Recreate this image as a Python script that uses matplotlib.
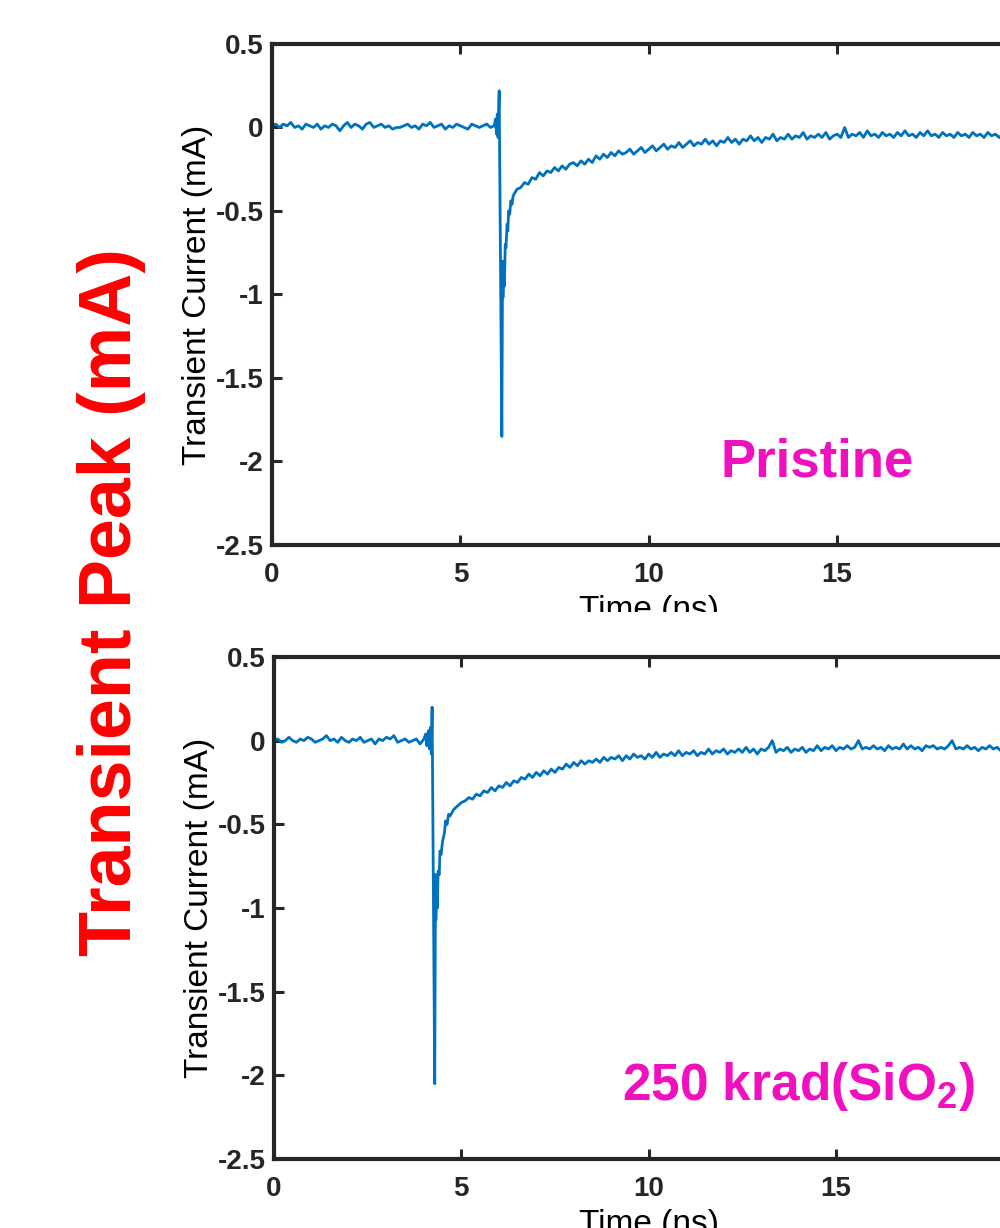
import numpy as np
import matplotlib.pyplot as plt
from matplotlib.patches import Rectangle

plt.rcParams["font.family"] = ["Liberation Sans", "DejaVu Sans"]
plt.rcParams["mathtext.fontset"] = "custom"
plt.rcParams["mathtext.rm"] = "Liberation Sans"
plt.rcParams["mathtext.bf"] = "Liberation Sans:bold"

LINE = "#0072BD"
MAGENTA = "#F010C0"
DT = 0.1  # scope sample step used for the baseline and tail segments (ns)

# ---- pristine device ----
pristine_pre = [0.01, 0.02, 0.00, 0.02, 0.01, 0.03, 0.00, 0.01, -0.01, 0.02,
                0.01, 0.00, 0.02, -0.01, 0.01, 0.00, 0.02, 0.01, -0.02, 0.01,
                0.03, 0.00, 0.02, 0.01, -0.01, 0.02, 0.03, 0.00, 0.01, 0.02,
                0.00, 0.01, -0.01, 0.00, 0.00, 0.01, 0.02, 0.00, 0.01, -0.01,
                0.02, 0.01, 0.03, 0.00, 0.01, 0.02, -0.01, 0.01, 0.00, 0.02,
                0.01, 0.00, -0.01, 0.02, 0.01, 0.00, 0.01, 0.02, 0.00, 0.01]
pristine_spike_t = [5.93, 5.96, 5.98, 6.00, 6.01, 6.03, 6.10, 6.12, 6.13, 6.15,
                    6.17, 6.19, 6.21, 6.24, 6.26, 6.28, 6.31, 6.34, 6.37]
pristine_spike_i = [0.05, -0.04, 0.08, -0.06, 0.06, 0.22, -1.85, -0.80, -1.02, -0.85,
                    -0.95, -0.70, -0.72, -0.58, -0.62, -0.50, -0.52, -0.44, -0.46]
pristine_tail_t0 = 6.4
pristine_tail = [-0.41, -0.37, -0.36, -0.33, -0.34, -0.30, -0.31, -0.27, -0.29, -0.26,
                 -0.27, -0.24, -0.26, -0.23, -0.25, -0.22, -0.21, -0.23, -0.20, -0.22,
                 -0.19, -0.21, -0.17, -0.19, -0.16, -0.18, -0.15, -0.17, -0.14, -0.16,
                 -0.15, -0.13, -0.16, -0.14, -0.12, -0.15, -0.13, -0.11, -0.14, -0.12,
                 -0.10, -0.13, -0.11, -0.12, -0.09, -0.12, -0.10, -0.08, -0.11, -0.09,
                 -0.10, -0.07, -0.10, -0.08, -0.11, -0.08, -0.09, -0.06, -0.09, -0.07,
                 -0.10, -0.07, -0.08, -0.05, -0.08, -0.06, -0.09, -0.06, -0.07, -0.04,
                 -0.08, -0.06, -0.07, -0.04, -0.07, -0.05, -0.06, -0.03, -0.07, -0.05,
                 -0.06, -0.04, -0.06, -0.03, -0.07, -0.05, -0.04, -0.06, 0.00, -0.06,
                 -0.04, -0.05, -0.03, -0.06, -0.02, -0.05, -0.04, -0.06, -0.03, -0.05,
                 -0.04, -0.06, -0.03, -0.05, -0.02, -0.05, -0.04, -0.06, -0.03, -0.05,
                 -0.02, -0.05, -0.04, -0.06, -0.03, -0.05, -0.04, -0.06, -0.03, -0.05,
                 -0.04, -0.06, -0.03, -0.05, -0.04, -0.06, -0.03, -0.05, -0.04, -0.06,
                 -0.04, -0.05, -0.03, -0.05, -0.04, -0.06, -0.04]

# ---- after 250 krad(SiO2) ----
irr_pre = [0.00, 0.01, -0.01, 0.00, 0.02, 0.00, -0.01, 0.01, 0.00, 0.02,
           0.01, -0.01, 0.00, 0.01, 0.03, 0.00, 0.01, -0.01, 0.02, 0.00,
           -0.01, 0.01, 0.00, 0.02, -0.01, 0.00, 0.01, -0.02, 0.01, 0.00,
           0.02, 0.01, 0.03, -0.01, 0.00, 0.01, -0.01, 0.00, 0.01, -0.02,
           0.01]
irr_spike_t = [4.05, 4.08, 4.12, 4.15, 4.18, 4.20, 4.22, 4.29, 4.31, 4.32,
               4.34, 4.36, 4.38, 4.41, 4.43, 4.46, 4.50, 4.55, 4.58, 4.62,
               4.66, 4.70]
irr_spike_i = [0.04, -0.03, 0.06, -0.05, 0.08, -0.08, 0.20, -2.05, -0.80, -1.07,
               -0.85, -1.00, -0.78, -0.80, -0.66, -0.68, -0.60, -0.55, -0.48, -0.50,
               -0.44, -0.45]
irr_tail_t0 = 4.8
irr_tail = [-0.41, -0.39, -0.37, -0.36, -0.34, -0.35, -0.32, -0.33, -0.30, -0.31,
            -0.28, -0.30, -0.27, -0.28, -0.25, -0.27, -0.24, -0.25, -0.22, -0.23,
            -0.20, -0.22, -0.19, -0.21, -0.18, -0.20, -0.17, -0.19, -0.16, -0.17,
            -0.14, -0.16, -0.13, -0.15, -0.12, -0.14, -0.12, -0.13, -0.11, -0.13,
            -0.10, -0.12, -0.10, -0.11, -0.09, -0.12, -0.09, -0.11, -0.08, -0.10,
            -0.09, -0.11, -0.08, -0.10, -0.07, -0.10, -0.08, -0.09, -0.07, -0.09,
            -0.06, -0.09, -0.07, -0.08, -0.06, -0.09, -0.07, -0.08, -0.05, -0.08,
            -0.06, -0.07, -0.05, -0.08, -0.06, -0.07, -0.05, -0.07, -0.04, -0.07,
            -0.05, -0.08, -0.05, -0.06, -0.04, 0.00, -0.07, -0.05, -0.06, -0.04,
            -0.07, -0.05, -0.06, -0.04, -0.07, -0.05, -0.06, -0.03, -0.06, -0.04,
            -0.05, -0.03, -0.06, -0.04, -0.05, -0.03, -0.05, -0.04, 0.00, -0.05,
            -0.04, -0.05, -0.03, -0.05, -0.04, -0.06, -0.03, -0.05, -0.04, -0.05,
            -0.02, -0.05, -0.03, -0.05, -0.04, -0.06, -0.03, -0.04, -0.03, -0.05,
            -0.04, -0.05, -0.03, 0.00, -0.05, -0.04, -0.05, -0.03, -0.05, -0.04,
            -0.06, -0.04, -0.05, -0.03, -0.05, -0.04, -0.06, -0.04, -0.05, -0.03,
            -0.05, -0.04, -0.05]

XTICKS = [0, 5, 10, 15, 20]
YTICKS = [-2.5, -2, -1.5, -1, -0.5, 0, 0.5]
YTICKLABELS = ["-2.5", "-2", "-1.5", "-1", "-0.5", "0", "0.5"]


def trace(pre, spike_t, spike_i, tail_t0, tail):
    t = np.concatenate([np.arange(len(pre)) * DT, spike_t,
                        tail_t0 + np.arange(len(tail)) * DT])
    i = np.concatenate([pre, spike_i, tail])
    return t, i


def style(ax):
    ax.set_xlim(0, 20)
    ax.set_ylim(-2.5, 0.5)
    ax.set_xticks(XTICKS)
    ax.set_yticks(YTICKS)
    ax.set_yticklabels(YTICKLABELS)
    for s in ax.spines.values():
        s.set_linewidth(3)
        s.set_color("#262626")
    ax.tick_params(direction="in", length=7, width=2.2, top=True, right=True,
                   labelsize=20, color="#262626")
    ax.tick_params(axis="x", pad=12)
    ax.tick_params(axis="y", pad=6)
    for lab in ax.get_xticklabels() + ax.get_yticklabels():
        lab.set_fontweight("bold")
        lab.set_color("#262626")
    ax.set_xlabel("Time (ns)", fontsize=24, labelpad=5)
    ax.set_ylabel("Transient Current (mA)", fontsize=24, labelpad=2)


fig = plt.figure(figsize=(10, 12.28), dpi=100)
ax1 = fig.add_axes([0.272, 0.5562, 0.7535, 0.408])
ax2 = fig.add_axes([0.274, 0.0562, 0.7493, 0.4088])

t, i = trace(pristine_pre, pristine_spike_t, pristine_spike_i,
             pristine_tail_t0, pristine_tail)
ax1.plot(t, i, color=LINE, lw=2.0)
style(ax1)
ax1.text(0.723, 0.165, "Pristine", transform=ax1.transAxes, ha="center",
         va="center", fontsize=38, fontweight="bold", color=MAGENTA)

t, i = trace(irr_pre, irr_spike_t, irr_spike_i, irr_tail_t0, irr_tail)
ax2.plot(t, i, color=LINE, lw=2.0)
style(ax2)
ax2.text(0.70, 0.145, r"250 krad(SiO$_{\mathbf{2}}$)", transform=ax2.transAxes,
         ha="center", va="center", fontsize=37, fontweight="bold", color=MAGENTA)

# shared summary label on the left
fig.text(0.112, 0.51, "Transient Peak (mA)", rotation=90, ha="center",
         va="center", fontsize=53, fontweight="bold", color="#FF0000")

# strip cuts the lower edge of the upper panel's axis title
fig.add_artist(Rectangle((0.15, 0.478), 0.85, 0.0235, transform=fig.transFigure,
                         facecolor="white", edgecolor="none", zorder=10))

fig.savefig("out.png", dpi=100)
